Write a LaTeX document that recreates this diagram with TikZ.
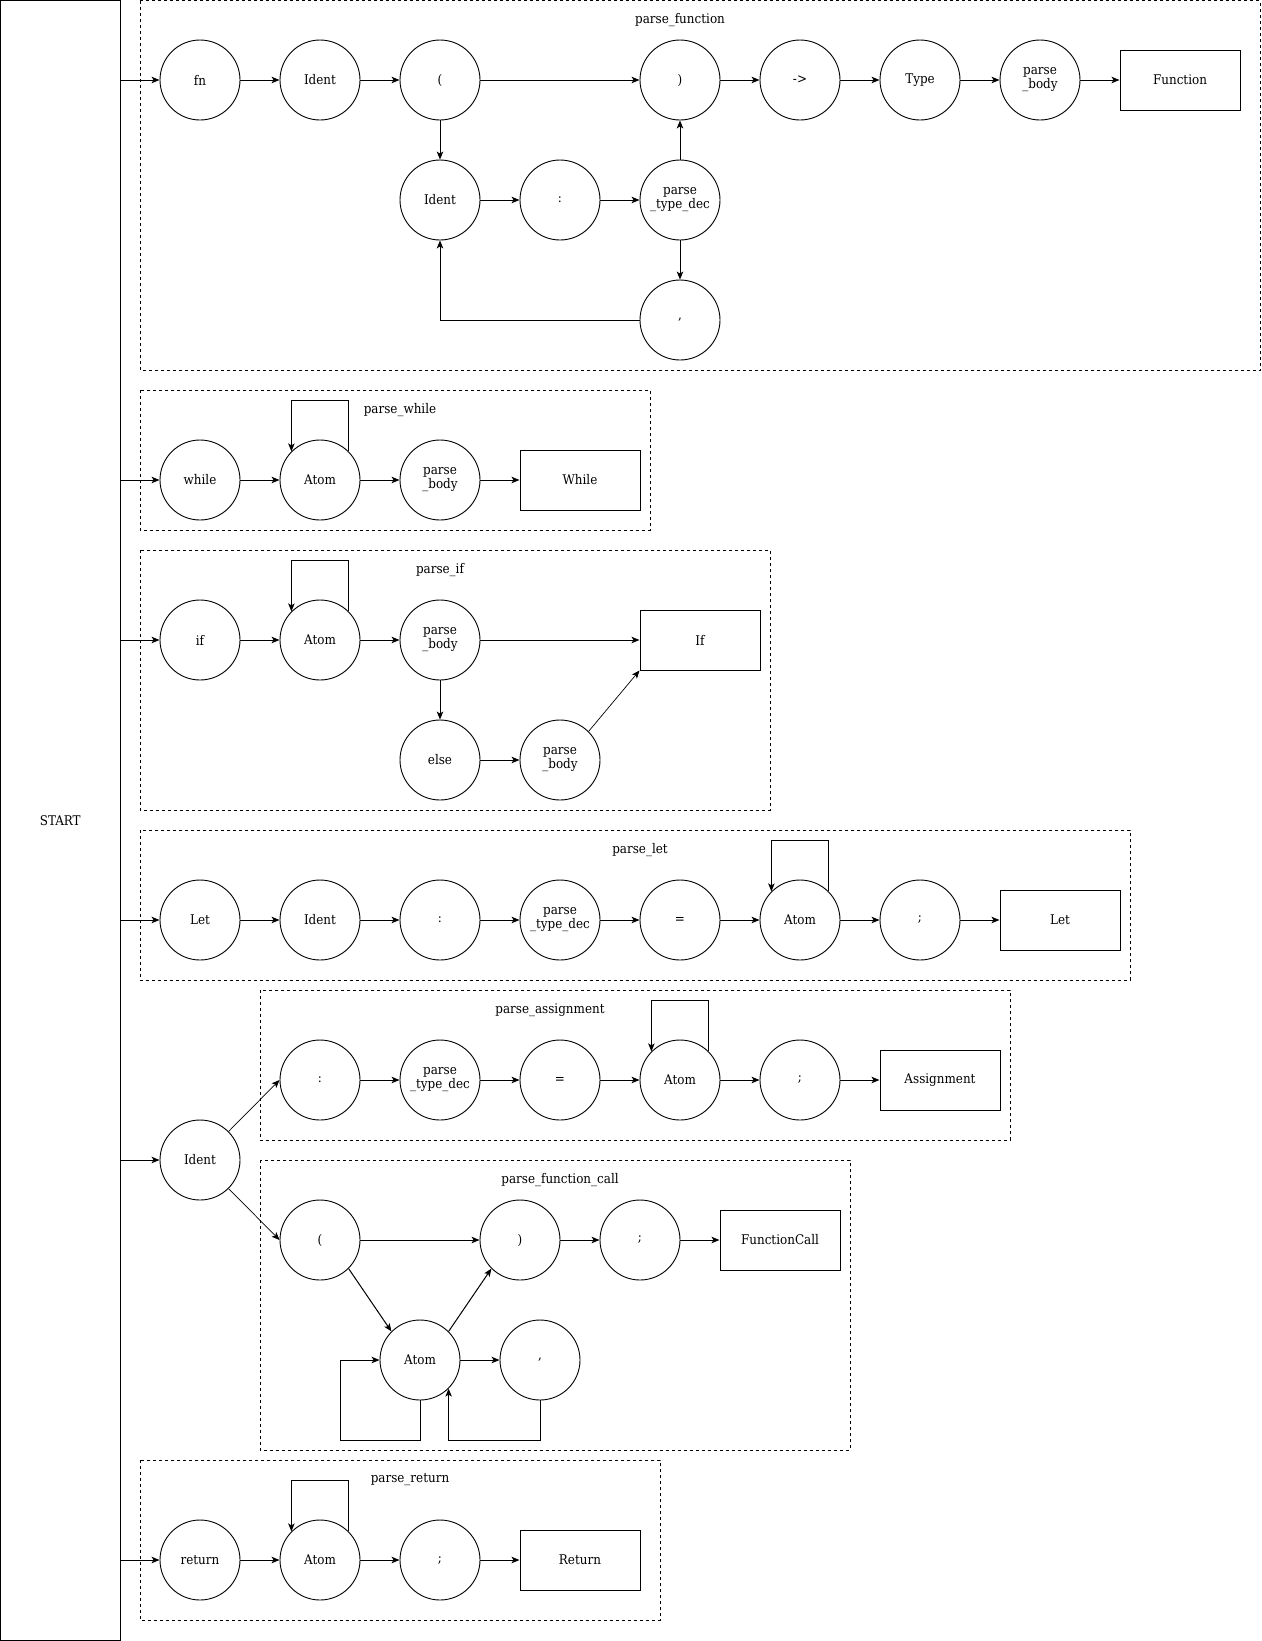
\documentclass[tikz,border=0pt]{standalone}
\usepackage{fontspec}
\setmainfont{DejaVu Serif Condensed}
\usetikzlibrary{arrows.meta}
\begin{document}
\begin{tikzpicture}[x=1pt,y=-1pt,
  txt/.style={font=\fontsize{13.3}{14}\selectfont},
  st/.style={circle,draw,line width=0.9pt,minimum size=80pt,inner sep=0pt,align=center,txt},
  res/.style={rectangle,draw,line width=1pt,minimum width=120pt,minimum height=60pt,inner sep=0pt,txt},
  grp/.style={draw,dash pattern=on 3pt off 3pt,line width=0.9pt},
  arr/.style={-{Stealth[length=8pt,width=6.5pt,inset=2pt]},line width=1pt},
  thinarr/.style={-{Stealth[length=8pt,width=6.5pt,inset=2pt]},line width=0.7pt}]
\useasboundingbox (0,0) rectangle (1261,1641);
% START
\node[draw,line width=1pt,minimum width=119.5pt,minimum height=1639.5pt,inner sep=0pt,txt] (start) at (60.25,820.25) {START};
% groups
\draw[grp] (140,0.5) rectangle (1260,370);
\node[txt] (gf) at (680,20) {parse\_function};
\draw[grp] (140,390) rectangle (650,530);
\node[txt] (gw) at (400,410) {parse\_while};
\draw[grp] (140,550) rectangle (770,810);
\node[txt] (gi) at (440,570) {parse\_if};
\draw[grp] (140,830) rectangle (1130,980);
\node[txt] (gl) at (640,850) {parse\_let};
\draw[grp] (260,990) rectangle (1010,1140);
\node[txt] (ga) at (550,1010) {parse\_assignment};
\draw[grp] (260,1160) rectangle (850,1450);
\node[txt] (gc) at (560,1180) {parse\_function\_call};
\draw[grp] (140,1460) rectangle (660,1620);
\node[txt] (gr) at (410,1480) {parse\_return};
% parse_function
\node[st] (f1) at (200,80) {fn};
\node[st] (f2) at (320,80) {Ident};
\node[st] (f3) at (440,80) {(};
\node[st] (f4) at (680,80) {)};
\node[st] (f5) at (800,80) {->};
\node[st] (f6) at (920,80) {Type};
\node[st] (f7) at (1040,80) {parse\\\_body};
\node[res] (f8) at (1180,80) {Function};
\node[st] (f9) at (440,200) {Ident};
\node[st] (f10) at (560,200) {:};
\node[st] (f11) at (680,200) {parse\\\_type\_dec};
\node[st] (f12) at (680,320) {,};
\draw[arr] (f1) -- (f2);
\draw[arr] (f2) -- (f3);
\draw[arr] (f3) -- (f4);
\draw[arr] (f4) -- (f5);
\draw[arr] (f5) -- (f6);
\draw[arr] (f6) -- (f7);
\draw[arr] (f7) -- (f8);
\draw[arr] (f3) -- (f9);
\draw[arr] (f9) -- (f10);
\draw[arr] (f10) -- (f11);
\draw[arr] (f11) -- (f4);
\draw[arr] (f11) -- (f12);
\draw[arr] (f12.west) -| (f9.south);
% parse_while
\node[st] (w1) at (200,480) {while};
\node[st] (w2) at (320,480) {Atom};
\node[st] (w3) at (440,480) {parse\\\_body};
\node[res] (w4) at (580,480) {While};
\draw[arr] (w1) -- (w2);
\draw[arr] (w2) -- (w3);
\draw[arr] (w3) -- (w4);
\draw[arr] (w2.45) -- (w2.45 |- 0,400) -- (w2.135 |- 0,400) -- (w2.135);
% parse_if
\node[st] (i1) at (200,640) {if};
\node[st] (i2) at (320,640) {Atom};
\node[st] (i3) at (440,640) {parse\\\_body};
\node[res] (i4) at (700,640) {If};
\node[st] (i5) at (440,760) {else};
\node[st] (i6) at (560,760) {parse\\\_body};
\draw[arr] (i1) -- (i2);
\draw[arr] (i2) -- (i3);
\draw[arr] (i3) -- (i4);
\draw[arr] (i3) -- (i5);
\draw[arr] (i5) -- (i6);
\draw[thinarr] (i6.45) -- (i4.south west);
\draw[arr] (i2.45) -- (i2.45 |- 0,560) -- (i2.135 |- 0,560) -- (i2.135);
% parse_let
\node[st] (l1) at (200,920) {Let};
\node[st] (l2) at (320,920) {Ident};
\node[st] (l3) at (440,920) {:};
\node[st] (l4) at (560,920) {parse\\\_type\_dec};
\node[st] (l5) at (680,920) {=};
\node[st] (l6) at (800,920) {Atom};
\node[st] (l7) at (920,920) {;};
\node[res] (l8) at (1060,920) {Let};
\draw[arr] (l1) -- (l2);
\draw[arr] (l2) -- (l3);
\draw[arr] (l3) -- (l4);
\draw[arr] (l4) -- (l5);
\draw[arr] (l5) -- (l6);
\draw[arr] (l6) -- (l7);
\draw[arr] (l7) -- (l8);
\draw[arr] (l6.45) -- (l6.45 |- 0,840) -- (l6.135 |- 0,840) -- (l6.135);
% Ident (assignment / call)
\node[st] (id) at (200,1160) {Ident};
\node[st] (a1) at (320,1080) {:};
\node[st] (a2) at (440,1080) {parse\\\_type\_dec};
\node[st] (a3) at (560,1080) {=};
\node[st] (a4) at (680,1080) {Atom};
\node[st] (a5) at (800,1080) {;};
\node[res] (a6) at (940,1080) {Assignment};
\draw[thinarr] (id.45) -- (a1.west);
\draw[arr] (a1) -- (a2);
\draw[arr] (a2) -- (a3);
\draw[arr] (a3) -- (a4);
\draw[arr] (a4) -- (a5);
\draw[arr] (a5) -- (a6);
\draw[arr] (a4.45) -- (a4.45 |- 0,1000) -- (a4.135 |- 0,1000) -- (a4.135);
% parse_function_call
\node[st] (c1) at (320,1240) {(};
\node[st] (c2) at (520,1240) {)};
\node[st] (c3) at (640,1240) {;};
\node[res] (c4) at (780,1240) {FunctionCall};
\node[st] (c5) at (420,1360) {Atom};
\node[st] (c6) at (540,1360) {,};
\draw[thinarr] (id.-45) -- (c1.west);
\draw[arr] (c1) -- (c2);
\draw[arr] (c2) -- (c3);
\draw[arr] (c3) -- (c4);
\draw[arr] (c1.-45) -- (c5.135);
\draw[arr] (c5.45) -- (c2.-135);
\draw[arr] (c5) -- (c6);
\draw[arr] (c5.south) -- (c5.south |- 0,1440) -- (340,1440) -- (340,1360) -- (c5.west);
\draw[arr] (c6.south) -- (c6.south |- 0,1440) -- (c5.-45 |- 0,1440) -- (c5.-45);
% parse_return
\node[st] (r1) at (200,1560) {return};
\node[st] (r2) at (320,1560) {Atom};
\node[st] (r3) at (440,1560) {;};
\node[res] (r4) at (580,1560) {Return};
\draw[arr] (r1) -- (r2);
\draw[arr] (r2) -- (r3);
\draw[arr] (r3) -- (r4);
\draw[arr] (r2.45) -- (r2.45 |- 0,1480) -- (r2.135 |- 0,1480) -- (r2.135);
% START connectors
\draw[arr] (start.east |- f1) -- (f1);
\draw[arr] (start.east |- w1) -- (w1);
\draw[arr] (start.east |- i1) -- (i1);
\draw[arr] (start.east |- l1) -- (l1);
\draw[arr] (start.east |- id) -- (id);
\draw[arr] (start.east |- r1) -- (r1);
\end{tikzpicture}
\end{document}
